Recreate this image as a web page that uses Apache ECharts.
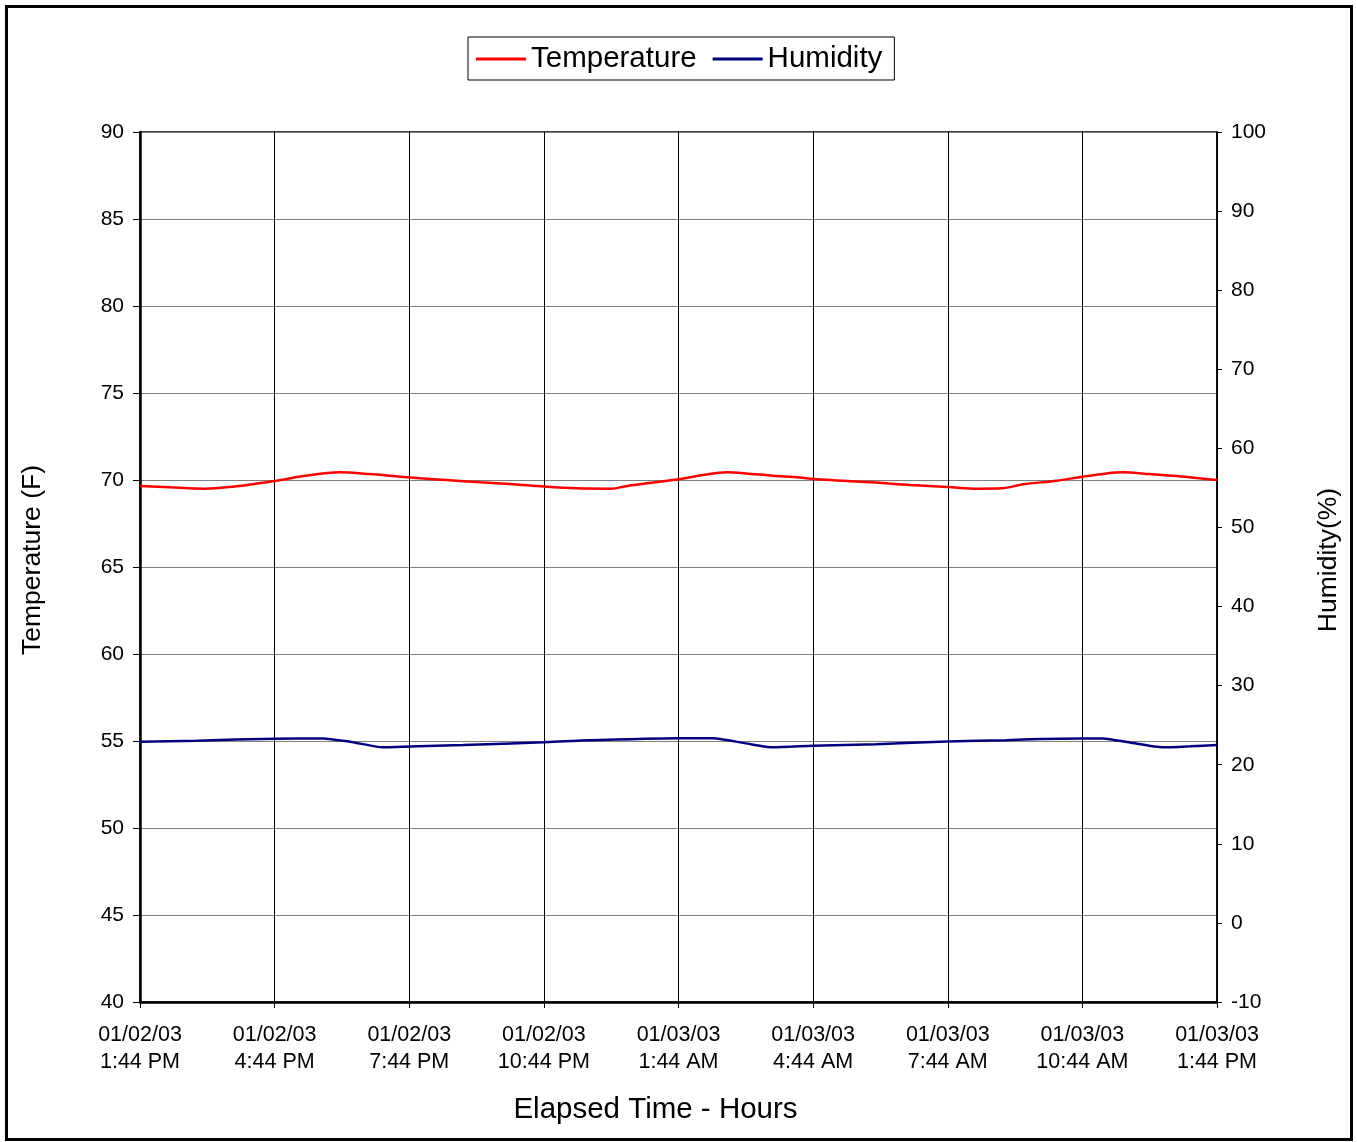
<!DOCTYPE html>
<html>
<head>
<meta charset="utf-8">
<script src="https://cdn.jsdelivr.net/npm/echarts@6/dist/echarts.min.js"></script>
<style>
html,body{margin:0;padding:0;background:#fff;}
#chart{width:1357px;height:1142px;}
</style>
</head>
<body>
<div id="chart"></div>
<script>
// X axis tick labels (every 3 hours from start)
const xLabels = [
  "01/02/03\n1:44 PM", "01/02/03\n4:44 PM", "01/02/03\n7:44 PM", "01/02/03\n10:44 PM",
  "01/03/03\n1:44 AM", "01/03/03\n4:44 AM", "01/03/03\n7:44 AM", "01/03/03\n10:44 AM",
  "01/03/03\n1:44 PM"
];
// Temperature (F), hours elapsed
const tempHours  = [0, 0.67, 1.45, 2.15, 2.6, 3, 3.64, 4.46, 5.12, 5.8, 6.24, 6.83, 7.58, 8.32, 9, 9.73, 10.5, 10.85, 11.44, 12, 12.55, 13.08, 13.5, 14.1, 14.7, 15, 15.67, 16.4, 17.16, 18, 18.65, 19.2, 19.68, 20.43, 21, 21.54, 21.9, 22.5, 23.1, 23.55, 24];
const tempValues = [69.66, 69.58, 69.5, 69.64, 69.8, 69.94, 70.23, 70.44, 70.34, 70.19, 70.1, 70.0, 69.87, 69.75, 69.62, 69.52, 69.5, 69.66, 69.85, 70.04, 70.29, 70.44, 70.38, 70.25, 70.15, 70.06, 69.96, 69.85, 69.71, 69.6, 69.5, 69.52, 69.75, 69.96, 70.19, 70.38, 70.44, 70.34, 70.23, 70.11, 70.0];
// Humidity (%), hours elapsed
const humHours  = [0, 1.26, 3, 4.08, 4.68, 5.42, 6, 7.2, 9, 9.77, 12, 12.77, 13.5, 14.1, 15, 16.4, 18, 19.3, 20.05, 21, 21.46, 22.06, 22.8, 23.4, 24];
const humValues = [22.9, 23.04, 23.3, 23.33, 22.9, 22.2, 22.3, 22.5, 22.84, 23.04, 23.34, 23.34, 22.7, 22.2, 22.4, 22.6, 22.95, 23.1, 23.25, 23.33, 23.33, 22.8, 22.2, 22.33, 22.5];

const FONT = "'Liberation Sans', Arial, sans-serif";
const chart = echarts.init(document.getElementById('chart'), null, {renderer: 'canvas'});
const pair = (h, v) => h.map((x, i) => [x, v[i]]);

chart.setOption({
  backgroundColor: '#fff',
  animation: false,
  textStyle: {fontFamily: FONT, color: '#000'},
  graphic: [{
    type: 'rect', silent: true,
    shape: {x: 6.5, y: 6.5, width: 1345, height: 1133},
    style: {fill: 'none', stroke: '#000', lineWidth: 3}
  }],
  legend: {
    top: 37, left: 468,
    padding: [7, 12, 6, 8],
    borderColor: '#000', borderWidth: 1,
    itemWidth: 50, itemHeight: 3, itemGap: 16,
    textStyle: {fontSize: 29.5, fontFamily: FONT, color: '#000', padding: [5, 0, 0, 0]},
    icon: 'rect',
    data: ['Temperature', 'Humidity']
  },
  grid: {
    left: 140, right: 140, top: 132, bottom: 140,
    show: true, borderColor: '#000', borderWidth: 1.5, backgroundColor: 'transparent'
  },
  xAxis: {
    type: 'value', min: 0, max: 24, interval: 3,
    name: 'Elapsed Time - Hours', nameLocation: 'middle', nameGap: 93,
    nameTextStyle: {fontSize: 29.5, fontFamily: FONT, color: '#000', padding: [0, 46, 0, 0]},
    axisLine: {show: true, onZero: false, lineStyle: {color: '#000', width: 2.5}},
    axisTick: {show: true, length: 6, lineStyle: {color: '#000', width: 1}},
    axisLabel: {
      margin: 20, fontSize: 21.5, lineHeight: 27, color: '#000', fontFamily: FONT,
      formatter: v => xLabels[Math.round(v / 3)]
    },
    splitLine: {show: true, lineStyle: {color: '#000', width: 1}}
  },
  yAxis: [{
    type: 'value', min: 40, max: 90, interval: 5, position: 'left',
    name: 'Temperature (F)', nameLocation: 'middle', nameGap: 94, nameRotate: 90,
    nameTextStyle: {fontSize: 26.5, fontFamily: FONT, color: '#000', padding: [0, 0, 0, 14]},
    axisLine: {show: true, onZero: false, lineStyle: {color: '#000', width: 2.5}},
    axisTick: {show: true, length: 7, lineStyle: {color: '#000', width: 1}},
    axisLabel: {margin: 16, fontSize: 21, color: '#000', fontFamily: FONT},
    splitLine: {show: true, lineStyle: {color: '#808080', width: 1}}
  }, {
    type: 'value', min: -10, max: 100, interval: 10, position: 'right',
    name: 'Humidity(%)', nameLocation: 'middle', nameGap: 98, nameRotate: 90,
    nameTextStyle: {fontSize: 26.5, fontFamily: FONT, color: '#000', padding: [0, 0, 0, 14]},
    axisLine: {show: true, onZero: false, lineStyle: {color: '#000', width: 1.5}},
    axisTick: {show: true, length: 5, lineStyle: {color: '#000', width: 1}},
    axisLabel: {margin: 14, fontSize: 21, color: '#000', fontFamily: FONT},
    splitLine: {show: false}
  }],
  series: [{
    name: 'Temperature', type: 'line', yAxisIndex: 0,
    data: pair(tempHours, tempValues),
    showSymbol: false, smooth: 0.3,
    lineStyle: {color: '#ff0000', width: 2.5},
    itemStyle: {color: '#ff0000'}
  }, {
    name: 'Humidity', type: 'line', yAxisIndex: 1,
    data: pair(humHours, humValues),
    showSymbol: false, smooth: 0.2,
    lineStyle: {color: '#000080', width: 2.5},
    itemStyle: {color: '#000080'}
  }]
});
</script>
</body>
</html>
